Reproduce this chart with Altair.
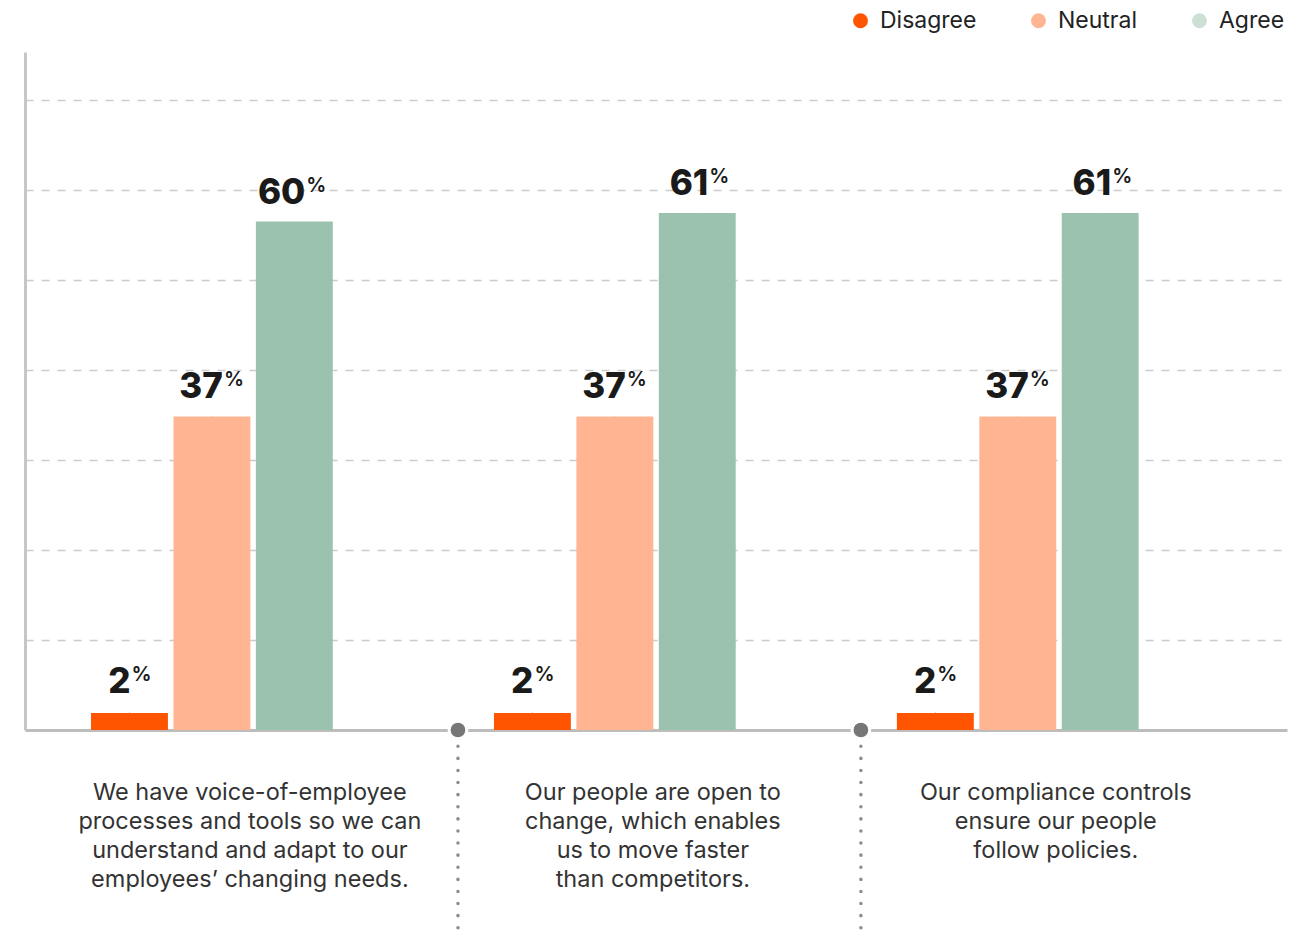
import altair as alt
import pandas as pd

# ---------------- data ----------------
CATEGORIES = [
    "We have voice-of-employee\nprocesses and tools so we can\nunderstand and adapt to our\nemployees\u2019 changing needs.",
    "Our people are open to\nchange, which enables\nus to move faster\nthan competitors.",
    "Our compliance controls\nensure our people\nfollow policies.",
]
SERIES = ["Disagree", "Neutral", "Agree"]
DISAGREE = [2, 2, 2]
NEUTRAL = [37, 37, 37]
AGREE = [60, 61, 61]

BAR_COLORS = ["#FF5500", "#FFB592", "#9BC2AE"]
LEGEND_COLORS = ["#FF5500", "#FFB592", "#CDE0D6"]
GRID_VALUES = [10.6, 21.2, 31.9, 42.5, 53.1, 63.7, 74.3]
Y_MAX = 80

rows = []
for i, cat in enumerate(CATEGORIES):
    for s, vals in zip(SERIES, [DISAGREE, NEUTRAL, AGREE]):
        rows.append({"group": cat, "series": s, "key": s,
                     "value": vals[i], "label": str(vals[i])})
df = pd.DataFrame(rows)
sep_df = pd.DataFrame({"group": CATEGORIES[1:]})

FONT = "Inter"

# ---------------- encodings ----------------
x_axis = alt.Axis(
    title=None, ticks=False, tickSize=0, grid=False,
    domainColor="#bdbdbd", domainWidth=3,
    labelExpr="split(datum.label, '\\n')",
    labelAngle=0, labelAlign="center", labelBaseline="top",
    labelFont=FONT, labelFontSize=23.5, labelLineHeight=29, labelColor="#333333",
    labelPadding=50, labelOffset=38, labelLimit=600, labelOverlap=False,
)
x_scale = alt.Scale(paddingInner=0.4, paddingOuter=0.266, align=0.308)


def X(**kw):
    return alt.X("group:N", sort=CATEGORIES, scale=x_scale, axis=x_axis, **kw)


xoff = alt.XOffset("series:N", sort=SERIES, scale=alt.Scale(paddingInner=0.067, paddingOuter=0))

y_enc = alt.Y(
    "value:Q",
    scale=alt.Scale(domain=[0, Y_MAX], nice=False, zero=True),
    axis=alt.Axis(
        title=None, labels=False, ticks=False, values=GRID_VALUES,
        grid=True, gridDash=[8, 8], gridColor="#cccccc", gridWidth=1.5,
        domainColor="#c6c6c6", domainWidth=3,
    ),
)

color_enc = alt.Color("series:N", sort=SERIES,
                      scale=alt.Scale(domain=SERIES, range=BAR_COLORS), legend=None)

base = alt.Chart(df)

# legend (tiny layer hidden under the bars, carrying the legend colours)
legend_layer = base.mark_point(filled=True, opacity=1, size=1).encode(
    x=X(), xOffset=xoff, y=y_enc,
    fill=alt.Fill(
        "key:N", sort=SERIES,
        scale=alt.Scale(domain=SERIES, range=LEGEND_COLORS),
        legend=alt.Legend(
            title=None, orient="none", legendX=824, legendY=-43,
            direction="horizontal", symbolType="circle", symbolSize=220,
            symbolStrokeWidth=0, symbolOpacity=1, labelFont=FONT,
            labelFontSize=23, labelColor="#222222", labelOffset=8,
            columnPadding=50, padding=0, labelLimit=300,
        ),
    ),
)

bars = base.mark_bar().encode(x=X(), xOffset=xoff, y=y_enc, color=color_enc)

num_style = dict(baseline="alphabetic", fontSize=35, fontWeight=800, color="#1a1a1a", font=FONT)
pct_style = dict(baseline="alphabetic", fontSize=20, fontWeight=600, color="#1a1a1a", font=FONT)

num_big = base.transform_filter("datum.value >= 10").mark_text(
    align="right", dx=11, dy=-18, **num_style
).encode(x=X(), xOffset=xoff, y=y_enc, text="label:N")
pct_big = base.transform_filter("datum.value >= 10").mark_text(
    align="left", dx=12, dy=-30, **pct_style
).encode(x=X(), xOffset=xoff, y=y_enc, text=alt.value("%"))
num_small = base.transform_filter("datum.value < 10").mark_text(
    align="right", dx=1, dy=-20, **num_style
).encode(x=X(), xOffset=xoff, y=y_enc, text="label:N")
pct_small = base.transform_filter("datum.value < 10").mark_text(
    align="left", dx=2, dy=-32, **pct_style
).encode(x=X(), xOffset=xoff, y=y_enc, text=alt.value("%"))

# separators between groups
sep_line = alt.Chart(sep_df).mark_rule(
    xOffset=-36, strokeDash=[0.1, 12], strokeDashOffset=8, strokeCap="round",
    strokeWidth=3.5, color="#8c8c8c",
).encode(x=X(bandPosition=0), y=alt.datum(0), y2=alt.value(885))

sep_dot = alt.Chart(sep_df).mark_point(
    xOffset=-36, filled=True, size=314, fill="#777777", stroke="white",
    strokeWidth=3, opacity=1, strokeOpacity=1, shape="circle",
).encode(x=X(bandPosition=0), y=alt.datum(0))

chart = alt.layer(
    legend_layer, bars, num_big, pct_big, num_small, pct_small, sep_line, sep_dot
).properties(
    width=1262, height=678,
    padding={"left": 25, "top": 52, "right": 28, "bottom": 207},
    autosize=alt.AutoSizeParams(type="none"),
    background="white",
).configure(font=FONT).configure_view(stroke=None)

chart.save("out.html", embed_options={"renderer": "svg", "actions": False})
